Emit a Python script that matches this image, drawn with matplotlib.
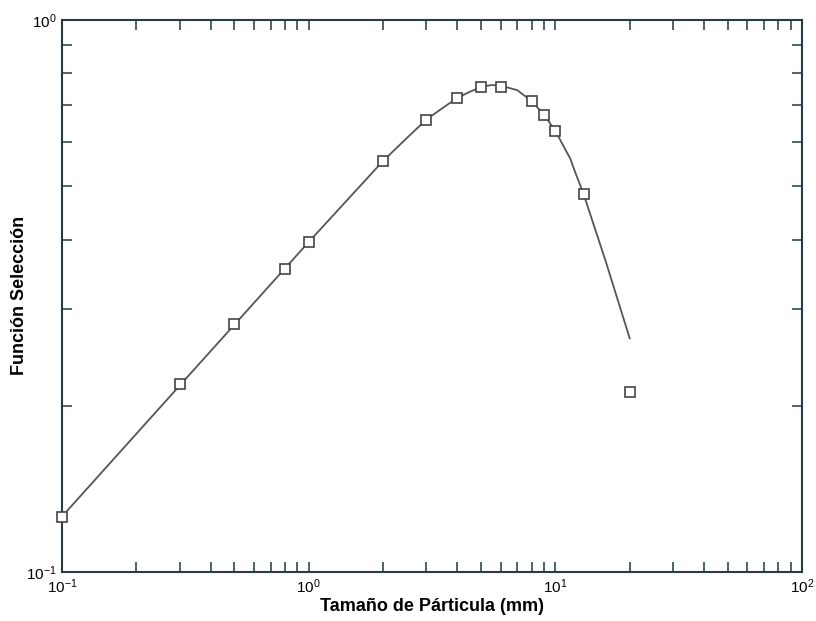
import numpy as np
import matplotlib
matplotlib.use("Agg")
import matplotlib.pyplot as plt
from matplotlib.ticker import LogLocator, NullFormatter

plt.rcParams['font.family'] = ['Liberation Sans', 'DejaVu Sans']
plt.rcParams['mathtext.default'] = 'regular'

# measured points
size_mm = [0.1, 0.3, 0.5, 0.8, 1.0, 2.0, 3.0, 4.0, 5.0, 6.0, 8.0, 9.0, 10.0, 13.0, 20.0]
sel_obs = [0.126, 0.219, 0.281, 0.354, 0.396, 0.555, 0.659, 0.722, 0.756, 0.756, 0.713, 0.673, 0.629, 0.484, 0.212]

# fitted curve
fit_x = [0.1, 1.0, 2.0, 2.5, 3.0, 3.5, 4.0, 4.5, 5.0, 5.5, 6.0, 7.0, 8.0, 9.0, 9.5,
         10.0, 11.5, 12.0, 13.0, 16.0, 20.0]
fit_y = [0.126, 0.396, 0.555, 0.611, 0.66, 0.693, 0.722, 0.741, 0.756, 0.762, 0.76, 0.746,
         0.713, 0.673, 0.65, 0.629, 0.560, 0.531, 0.484, 0.365, 0.265]

fig = plt.figure(figsize=(8.16, 6.21), dpi=100)
ax = fig.add_axes([0.076, 0.079, 0.907, 0.889])

ax.plot(fit_x, fit_y, color='#555555', lw=1.3, zorder=2)
ax.plot(size_mm, sel_obs, ls='none', marker='s', ms=7.5, mfc='white',
        mec='#444444', mew=1.2, zorder=3, clip_on=False)

ax.set_xscale('log')
ax.set_yscale('log')
ax.set_xlim(0.1, 100)
ax.set_ylim(0.1, 1)

ax.xaxis.set_major_locator(LogLocator(base=10, numticks=10))
ax.yaxis.set_major_locator(LogLocator(base=10, numticks=10))
ax.xaxis.set_minor_locator(LogLocator(base=10, subs=np.arange(2, 10), numticks=20))
ax.yaxis.set_minor_locator(LogLocator(base=10, subs=np.arange(2, 10), numticks=20))
ax.xaxis.set_minor_formatter(NullFormatter())
ax.yaxis.set_minor_formatter(NullFormatter())

ax.tick_params(which='both', direction='in', top=True, right=True,
               color='#2a4a5a', labelsize=11, pad=4)
ax.tick_params(which='major', length=7, width=1.2)
ax.tick_params(which='minor', length=7, width=1.2)
for s in ax.spines.values():
    s.set_color('#2a3a44')
    s.set_linewidth(1.5)

ax.set_xlabel('Tamaño de Párticula (mm)', fontsize=13, fontweight='bold')
ax.set_ylabel('Función Selección', fontsize=13, fontweight='bold')
ax.xaxis.set_label_coords(0.5, -0.047)
ax.yaxis.set_label_coords(-0.046, 0.5)

fig.savefig('out.png', dpi=100)
